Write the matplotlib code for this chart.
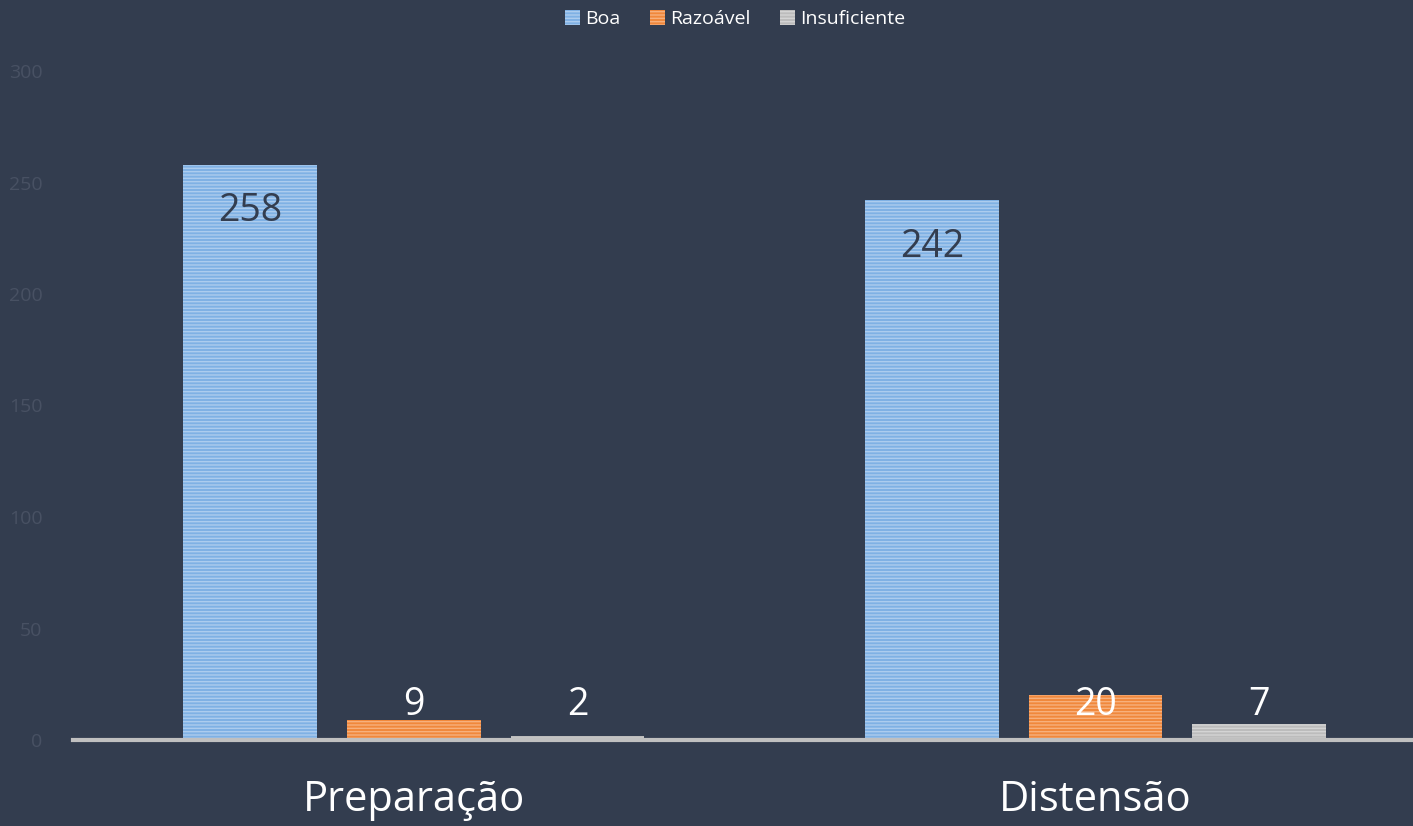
import numpy as np
import matplotlib.pyplot as plt

categories = ["Preparação", "Distensão"]
series = ["Boa", "Razoável", "Insuficiente"]
boa = [258, 242]
razoavel = [9, 20]
insuficiente = [2, 7]
yticks = [0, 50, 100, 150, 200, 250, 300]

bg = "#333d4f"
face = ["#7fb1e4", "#f0883c", "#bcbcbc"]
stripe = ["#acccee", "#f7b07c", "#d4d4d4"]

plt.rcParams["font.family"] = ["Open Sans", "DejaVu Sans"]
plt.rcParams["hatch.linewidth"] = 1.0

fig = plt.figure(figsize=(14.13, 8.26), dpi=100, facecolor=bg)
ax = fig.add_axes([73 / 1413, 86 / 826, 1340 / 1413, 669 / 826])
ax.set_facecolor(bg)

x = np.arange(len(categories))
width = 0.196
step = 0.24
values = [boa, razoavel, insuficiente]

for i, (name, vals) in enumerate(zip(series, values)):
    xs = x + (i - 1) * step
    ax.bar(xs, vals, width, color=face[i], edgecolor=stripe[i], linewidth=0,
           hatch="-----", label=name, zorder=2)
    for xi, v in zip(xs, vals):
        if i == 0:
            ax.annotate(str(v), (xi, v), xytext=(0, -20), textcoords="offset points",
                        ha="center", va="top", fontsize=27, color=bg, zorder=3)
        else:
            ax.text(xi, 15.7, str(v), ha="center", va="center", fontsize=27,
                    color="white", zorder=3)

ax.set_xlim(-0.5, 1.466)
ax.set_ylim(0, 300)
ax.set_yticks(yticks)
ax.set_yticklabels([str(t) for t in yticks], fontsize=14, color="#485163")
ax.tick_params(axis="y", length=0, pad=22)
ax.set_xticks(x)
ax.set_xticklabels(categories, fontsize=30, color="white")
ax.tick_params(axis="x", length=0, pad=28)

for s in ["top", "right", "left"]:
    ax.spines[s].set_visible(False)
ax.spines["bottom"].set_color("#c0c0c0")
ax.spines["bottom"].set_linewidth(3)
ax.spines["bottom"].set_zorder(4)

leg = ax.legend(loc="center", bbox_to_anchor=(0.494, 1.078), ncol=3, frameon=False,
                fontsize=14, handlelength=0.8, handleheight=0.8, handletextpad=0.25,
                columnspacing=1.5, labelcolor="white")

fig.savefig("out.png", facecolor=bg)
